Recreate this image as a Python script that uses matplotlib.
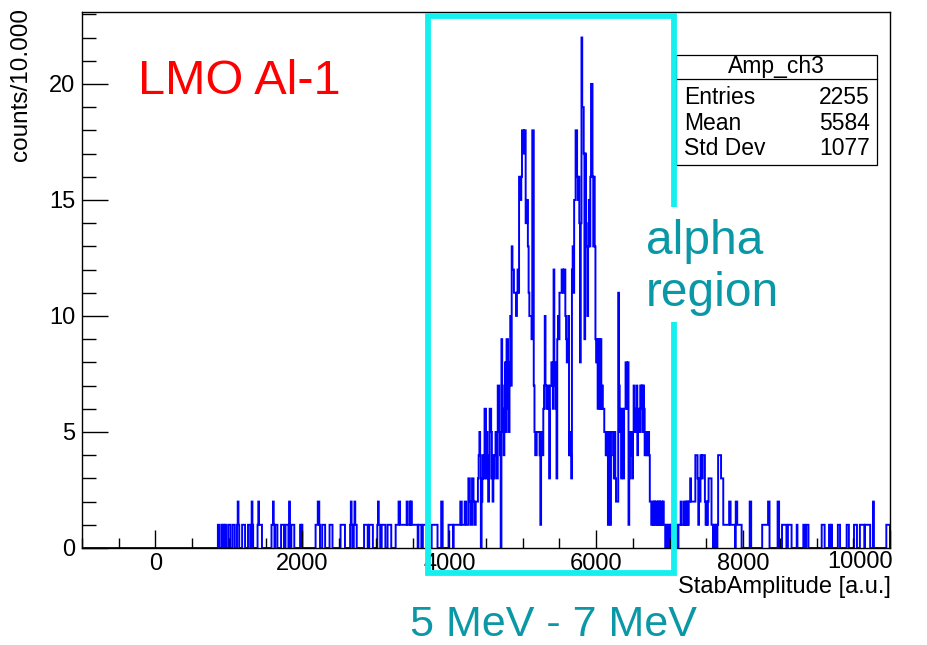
#
# amp_ch3.py
#   - Amplitude spectrum of LMO Al-1 with the alpha region marked.
#

import numpy as np
import matplotlib.pyplot as plt
from matplotlib.patches import Rectangle
from matplotlib.lines import Line2D
from matplotlib.ticker import MultipleLocator

plt.rcParams['font.family'] = ['Liberation Sans', 'DejaVu Sans']

# bin width of 10, histogram range of the x axis
bin_width = 10
x_min, x_max = -1000, 10000

# counts per 10-unit bin, 800 .. 3990
low_counts = [
    0, 0, 0, 0, 0, 1, 1, 0, 0, 0,  1, 0, 1, 1, 0, 1, 0, 0, 0, 1,
    1, 1, 0, 0, 0, 1, 1, 1, 0, 0,  0, 1, 2, 1, 0, 0, 0, 0, 1, 1,
    1, 1, 0, 0, 0, 0, 1, 1, 1, 0,  0, 2, 1, 0, 0, 0, 0, 0, 0, 1,
    2, 1, 1, 1, 1, 0, 0, 0, 0, 0,  0, 0, 0, 0, 0, 0, 0, 0, 1, 1,
    2, 1, 0, 1, 1, 1, 0, 0, 0, 0,  0, 1, 1, 1, 1, 0, 0, 1, 1, 1,
    1, 0, 2, 0, 0, 1, 1, 1, 1, 0,  0, 0, 0, 0, 0, 0, 0, 1, 0, 1,
    0, 0, 0, 0, 0, 0, 0, 0, 0, 0,  0, 0, 0, 0, 0, 0, 0, 0, 1, 1,
    1, 2, 2, 1, 0, 0, 0, 1, 1, 1,  1, 0, 0, 0, 0, 0, 0, 1, 1, 1,
    1, 0, 0, 0, 0, 0, 0, 0, 0, 0,  0, 0, 1, 1, 1, 1, 1, 1, 0, 0,
    0, 0, 0, 0, 0, 1, 2, 1, 0, 0,  1, 2, 1, 1, 0, 0, 0, 0, 0, 0,
    0, 0, 0, 0, 1, 1, 1, 1, 1, 0,  0, 1, 1, 1, 1, 1, 0, 0, 0, 0,
    0, 0, 1, 2, 1, 1, 0, 0, 1, 1,  1, 1, 1, 0, 0, 0, 1, 1, 1, 1,
    1, 0, 0, 0, 0, 0, 0, 1, 1, 1,  1, 2, 2, 1, 1, 1, 1, 1, 1, 1,
    1, 1, 2, 1, 1, 1, 2, 1, 2, 1,  1, 1, 1, 1, 1, 1, 1, 0, 1, 1,
    1, 1, 0, 0, 1, 1, 1, 1, 1, 0,  0, 0, 0, 0, 0, 0, 1, 1, 1, 1,
    1, 1, 1, 1, 0, 0, 0, 0, 0, 2,  2, 0, 0, 0, 0, 0, 0, 0, 0, 1,
]

# counts per 10-unit bin, 4000 .. 6990
peak_counts = [
    1, 1, 1, 1, 1, 0, 1, 1, 1, 1,  1, 1, 1, 1, 1, 2, 2, 1, 1, 1,
    1, 2, 2, 1, 1, 1, 3, 3, 2, 1,  1, 3, 3, 2, 1, 1, 2, 2, 2, 3,
    4, 5, 4, 0, 2, 3, 4, 3, 6, 6,  3, 5, 4, 2, 3, 6, 6, 5, 3, 2,
    4, 3, 4, 5, 4, 3, 7, 7, 5, 4,  0, 9, 6, 5, 4, 7, 8, 5, 9, 9,
    6, 5, 8, 10, 7, 13, 12, 12, 11, 11,  11, 10, 11, 12, 11, 16, 16, 15, 16, 18,
    18, 17, 18, 18, 14, 14, 15, 13, 11, 10,  10, 10, 9, 18, 18, 7, 5, 4, 4, 5,
    5, 5, 5, 4, 1, 5, 5, 4, 6, 7,  10, 7, 6, 7, 7, 6, 3, 7, 7, 8,
    7, 6, 12, 7, 8, 6, 3, 9, 10, 9,  11, 11, 11, 12, 12, 11, 12, 12, 10, 9,
    8, 9, 10, 4, 5, 4, 3, 12, 13, 11,  15, 15, 18, 18, 16, 15, 16, 14, 8, 14,
    22, 19, 19, 17, 9, 17, 14, 13, 10, 13,  15, 13, 16, 20, 20, 16, 13, 16, 13, 9,
    8, 9, 6, 9, 9, 6, 9, 6, 7, 6,  6, 5, 5, 4, 5, 4, 1, 5, 5, 1,
    5, 5, 5, 4, 3, 5, 3, 2, 2, 2,  11, 7, 5, 6, 3, 5, 6, 3, 6, 6,
    8, 8, 6, 8, 1, 3, 5, 4, 5, 3,  5, 7, 5, 6, 5, 7, 4, 5, 6, 5,
    7, 6, 7, 5, 7, 6, 4, 5, 4, 5,  4, 5, 4, 2, 2, 1, 1, 2, 1, 2,
    1, 2, 2, 1, 2, 1, 2, 1, 2, 2,  1, 2, 1, 1, 0, 1, 1, 0, 1, 1,
]

# counts per 10-unit bin, 7000 .. 9990
high_counts = [
    0, 1, 0, 1, 0, 0, 0, 0, 0, 1,  1, 0, 1, 1, 1, 2, 1, 1, 1, 2,
    1, 1, 2, 1, 2, 1, 2, 2, 3, 2,  2, 2, 2, 2, 2, 4, 4, 4, 3, 1,
    3, 2, 4, 4, 3, 4, 4, 4, 2, 1,  2, 1, 2, 3, 3, 3, 3, 1, 1, 0,
    1, 1, 0, 1, 0, 1, 4, 4, 4, 4,  3, 3, 3, 1, 1, 1, 1, 1, 1, 1,
    1, 2, 2, 1, 1, 1, 1, 1, 1, 0,  2, 2, 1, 1, 1, 1, 1, 1, 0, 0,
    0, 0, 0, 0, 0, 0, 0, 0, 0, 2,  2, 0, 0, 0, 0, 0, 0, 0, 0, 0,
    0, 0, 0, 0, 0, 0, 1, 1, 1, 1,  1, 1, 1, 1, 2, 2, 0, 0, 0, 0,
    0, 0, 0, 0, 0, 0, 0, 2, 2, 0,  0, 0, 0, 1, 1, 1, 1, 1, 1, 0,
    0, 1, 1, 1, 1, 1, 0, 0, 0, 0,  0, 0, 0, 1, 0, 0, 0, 0, 0, 0,
    0, 0, 1, 1, 0, 0, 1, 1, 1, 0,  0, 0, 0, 0, 0, 0, 0, 0, 0, 0,
    0, 0, 0, 0, 0, 0, 0, 1, 1, 1,  1, 0, 0, 0, 0, 0, 0, 1, 1, 0,
    1, 0, 0, 0, 0, 0, 0, 0, 0, 1,  1, 1, 0, 0, 0, 0, 0, 0, 0, 0,
    0, 1, 1, 1, 0, 0, 0, 0, 0, 0,  0, 1, 1, 1, 1, 0, 0, 0, 0, 1,
    1, 1, 1, 1, 1, 0, 1, 1, 1, 1,  1, 1, 1, 0, 0, 0, 0, 2, 0, 0,
    0, 0, 0, 0, 0, 0, 0, 0, 0, 0,  0, 0, 0, 0, 0, 1, 1, 1, 1, 1,
]

x_ticks = [0, 2000, 4000, 6000, 8000, 10000]
hist_name = "Amp_ch3"
stats_rows = [("Entries", "2255"), ("Mean", "5584"), ("Std Dev", "1077")]

TEAL = "#0b98a6"
CYAN = "#14f0f0"


def main():
    edges = np.arange(x_min, x_max + bin_width, bin_width)
    n_empty = (800 - x_min) // bin_width
    counts = np.array([0] * n_empty + low_counts + peak_counts + high_counts)

    W, H = 928, 645
    fig = plt.figure(figsize=(W / 100, H / 100), dpi=100)
    ax = fig.add_axes([82 / W, 1 - 548 / H, (890 - 82) / W, (548 - 12) / H])

    ax.stairs(counts, edges, color="#0000ff", linewidth=1.4)

    ax.set_xlim(x_min, x_max)
    ax.set_ylim(0, 23.1)

    # ROOT-like axes: inward ticks on left/bottom only
    ax.xaxis.set_minor_locator(MultipleLocator(500))
    ax.yaxis.set_major_locator(MultipleLocator(5))
    ax.yaxis.set_minor_locator(MultipleLocator(1))
    # last label is pulled inside the frame, as ROOT does
    ax.set_xticks(x_ticks, [str(t) for t in x_ticks[:-1]] + [""])
    ax.tick_params(axis="x", which="major", direction="in", length=13, width=1,
                   labelsize=17, pad=3.5)
    ax.tick_params(axis="x", which="minor", direction="in", length=7, width=1)
    ax.tick_params(axis="y", which="major", direction="in", length=19, width=1,
                   labelsize=17, pad=5)
    ax.tick_params(axis="y", which="minor", direction="in", length=10, width=1)
    for spine in ax.spines.values():
        spine.set_linewidth(1)
    fig.text(893 / W, 1 - 562 / H, str(x_ticks[-1]), ha="right", va="center",
             fontsize=17)

    fig.text(21 / W, 1 - 8 / H, "counts/10.000", rotation=90, ha="center",
             va="top", fontsize=17.5)
    fig.text(891 / W, 1 - 587 / H, "StabAmplitude [a.u.]", ha="right",
             va="center", fontsize=17)

    # stats box
    bx0, bx1, by0, by1 = 676, 877, 55, 165
    fig.add_artist(Rectangle((bx0 / W, 1 - by1 / H), (bx1 - bx0) / W,
                             (by1 - by0) / H, transform=fig.transFigure,
                             facecolor="white", edgecolor="black", lw=0.9,
                             zorder=3))
    fig.add_artist(Line2D([bx0 / W, bx1 / W], [1 - 79 / H, 1 - 79 / H],
                          transform=fig.transFigure, color="black",
                          lw=0.9, zorder=4))
    fig.text((bx0 + bx1) / 2 / W, 1 - 67 / H, hist_name, ha="center",
             va="center", fontsize=16.5, zorder=5)
    for i, (name, val) in enumerate(stats_rows):
        y = 1 - (97.5 + 25.5 * i) / H
        fig.text(684 / W, y, name, ha="left", va="center", fontsize=16.5,
                 zorder=5)
        fig.text(870 / W, y, val, ha="right", va="center", fontsize=16.5,
                 zorder=5)

    # alpha region frame, right side broken around the label
    left, right, top, bottom = 428, 674, 16, 573
    xs = [right, right, left, left, right, right]
    ys = [207, top, top, bottom, bottom, 322]
    fig.add_artist(Line2D([x / W for x in xs], [1 - y / H for y in ys],
                          transform=fig.transFigure, color=CYAN, lw=4.2,
                          solid_joinstyle="miter", solid_capstyle="butt",
                          zorder=6))

    fig.text(138 / W, 1 - 82 / H, "LMO Al-1", color="red", ha="left",
             va="center", fontsize=35, zorder=7)
    fig.text(646 / W, 1 - 268 / H, "alpha\nregion", color=TEAL, ha="left",
             va="center", fontsize=34.5, linespacing=1.2, zorder=7)
    fig.text(410 / W, 1 - 625 / H, "5 MeV - 7 MeV", color=TEAL, ha="left",
             va="center", fontsize=31, zorder=7)

    fig.savefig("out.png", dpi=100)


if __name__ == '__main__':
    main()
